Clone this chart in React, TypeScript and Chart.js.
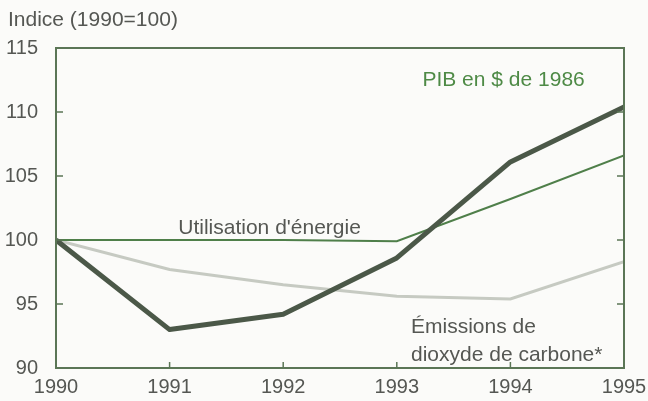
import React, { useEffect, useRef } from "react";
import { Chart, registerables } from "chart.js";

Chart.register(...registerables);

const years = [1990, 1991, 1992, 1993, 1994, 1995];
const pib = [100, 93.0, 94.2, 98.6, 106.1, 110.4];
const energie = [100, 100, 100, 99.9, 103.2, 106.6];
const carbone = [100, 97.7, 96.5, 95.6, 95.4, 98.3];
const yTicks = [90, 95, 100, 105, 110, 115];

const FONT = "'Liberation Sans', Arial, Helvetica, sans-serif";
const AXIS = "#5b7656";
const TEXT = "#555753";

const framePlugin = {
  id: "frame",
  afterDatasetsDraw(chart: any) {
    const { ctx, chartArea, scales } = chart;
    const { left, right, top, bottom } = chartArea;
    ctx.save();
    ctx.strokeStyle = AXIS;
    ctx.lineWidth = 2;
    ctx.strokeRect(left, top, right - left, bottom - top);
    ctx.lineWidth = 1.5;
    yTicks.forEach((v) => {
      if (v === 90 || v === 115) return;
      const y = scales.y.getPixelForValue(v);
      ctx.beginPath();
      ctx.moveTo(left, y);
      ctx.lineTo(left + 7, y);
      ctx.moveTo(right, y);
      ctx.lineTo(right - 7, y);
      ctx.stroke();
    });
    years.forEach((yr) => {
      if (yr === 1990 || yr === 1995) return;
      const x = scales.x.getPixelForValue(yr);
      ctx.beginPath();
      ctx.moveTo(x, bottom);
      ctx.lineTo(x, bottom - 6);
      ctx.stroke();
    });
    // annotations
    ctx.font = `21px ${FONT}`;
    ctx.textBaseline = "middle";
    ctx.fillStyle = "#4e8a46";
    ctx.textAlign = "center";
    ctx.fillText("PIB en $ de 1986", scales.x.getPixelForValue(1993.94), scales.y.getPixelForValue(112.5));
    ctx.fillStyle = TEXT;
    ctx.fillText("Utilisation d'énergie", scales.x.getPixelForValue(1991.88), scales.y.getPixelForValue(100.94));
    ctx.textAlign = "left";
    ctx.fillText("Émissions de", scales.x.getPixelForValue(1993.125), scales.y.getPixelForValue(93.2));
    ctx.fillText("dioxyde de carbone*", scales.x.getPixelForValue(1993.125), scales.y.getPixelForValue(91.0));
    // y title
    ctx.font = `21px ${FONT}`;
    ctx.textAlign = "left";
    ctx.fillText("Indice (1990=100)", 8, 20);
    ctx.restore();
  },
};

export default function App() {
  const ref = useRef<HTMLCanvasElement | null>(null);
  useEffect(() => {
    document.body.style.margin = "0";
    const canvas = ref.current;
    if (!canvas) return;
    const chart = new Chart(canvas, {
      type: "line",
      data: {
        datasets: [
          {
            label: "PIB",
            data: years.map((x, i) => ({ x, y: pib[i] })),
            borderColor: "#4b5848",
            borderWidth: 5,
            pointRadius: 0,
            tension: 0,
            borderJoinStyle: "round",
          },
          {
            label: "Énergie",
            data: years.map((x, i) => ({ x, y: energie[i] })),
            borderColor: "#4f7f4a",
            borderWidth: 2,
            pointRadius: 0,
            tension: 0,
          },
          {
            label: "Carbone",
            data: years.map((x, i) => ({ x, y: carbone[i] })),
            borderColor: "#c6cac2",
            borderWidth: 3,
            pointRadius: 0,
            tension: 0,
          },
        ],
      },
      options: {
        animation: false,
        responsive: false,
        devicePixelRatio: 1,
        layout: { padding: { top: 48, right: 24, left: 0, bottom: 0 } },
        plugins: { legend: { display: false }, tooltip: { enabled: false } },
        scales: {
          x: {
            type: "linear",
            min: 1990,
            max: 1995,
            grid: { display: false, drawTicks: false },
            border: { display: false },
            afterBuildTicks: (s: any) => {
              s.ticks = years.map((v) => ({ value: v }));
            },
            ticks: {
              padding: 7,
              color: TEXT,
              font: { family: FONT, size: 20 },
              callback: (v: any) => String(v),
              maxRotation: 0,
              autoSkip: false,
            },
            afterFit: (s: any) => {
              s.height = 33;
              s.paddingLeft = 0;
              s.paddingRight = 0;
            },
          },
          y: {
            min: 90,
            max: 115,
            grid: { display: false, drawTicks: false },
            border: { display: false },
            afterBuildTicks: (s: any) => {
              s.ticks = yTicks.map((v) => ({ value: v }));
            },
            ticks: {
              padding: 18,
              color: TEXT,
              font: { family: FONT, size: 20 },
            },
            afterFit: (s: any) => {
              s.width = 56;
              s.paddingTop = 0;
              s.paddingBottom = 0;
            },
          },
        },
      },
      plugins: [framePlugin],
    });
    return () => chart.destroy();
  }, []);
  return (
    <div style={{ width: 648, height: 401, background: "#fbfbf9" }}>
      <canvas ref={ref} width={648} height={401} style={{ display: "block" }} />
    </div>
  );
}
